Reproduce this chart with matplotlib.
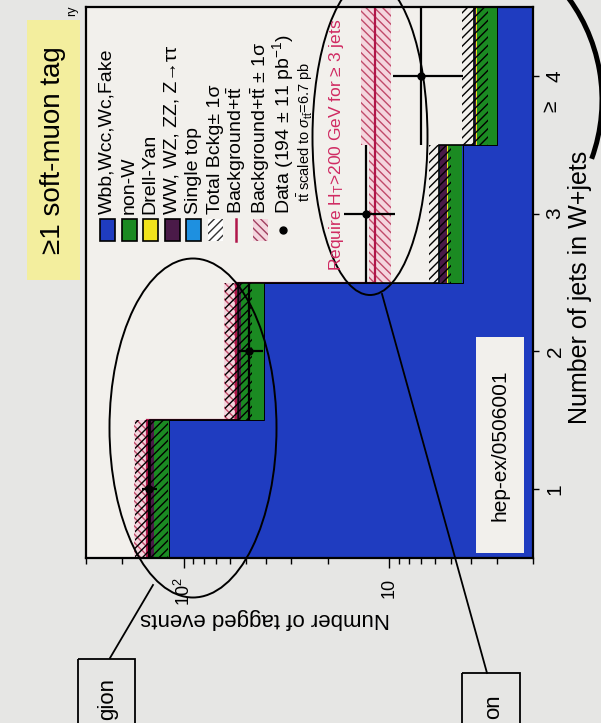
import numpy as np
import matplotlib
matplotlib.use('Agg')
import matplotlib.pyplot as plt
from matplotlib.patches import Rectangle, Ellipse, Arc
from matplotlib.ticker import LogLocator, NullFormatter, FixedLocator

plt.rcParams['font.family'] = ['Liberation Sans', 'DejaVu Sans']
plt.rcParams['mathtext.fontset'] = 'custom'
plt.rcParams['mathtext.rm'] = 'Liberation Sans'
plt.rcParams['mathtext.it'] = 'Liberation Sans:italic'
plt.rcParams['hatch.linewidth'] = 1.0

# histogram data
jets = np.array([1, 2, 3, 4])
jet_edges = np.array([0.5, 1.5, 2.5, 3.5, 4.5])
jet_ticklabels = ['1', '2', '3', '4']
wbb = np.array([118, 40.7, 4.4, 3.0])
nonw = np.array([22, 12, 0.8, 0.75])
drellyan = np.array([0.3, 0.2, 0.05, 0.01])
diboson = np.array([6.2, 1.6, 0.4, 0.08])
single_top = np.array([0.5, 0.3, 0.05, 0.02])
bkg_err = np.array([27, 8, 0.7, 0.55])
bkg_tt = np.array([151, 56, 11.8, 11.8])
bkg_tt_lo = np.array([128, 48, 9.8, 9.8])
bkg_tt_hi = np.array([175, 64, 12.6, 13.7])
data = np.array([148, 48, 13, 7])
data_err = np.array([12.2, 6.9, 3.6, 2.6])
count_ticks = [10, 100]
count_ticklabels = ['10', '$10^{2}$']

legend_labels = ['Wbb,Wcc,Wc,Fake', 'non-W', 'Drell-Yan', 'WW, WZ, ZZ, Z→ττ',
                 'Single top', 'Total Bckg± 1σ', r'Background+t$\bar{\rm t}$',
                 r'Background+t$\bar{\rm t}$ ± 1σ', r'Data (194 ± 11 pb$^{-1}$)']

c_blue = '#1f3cc0'
c_green = '#1b8a22'
c_yellow = '#f2e21c'
c_purple = '#4a1a48'
c_lblue = '#1e90e0'
c_crimson = '#b0164a'
c_pink = '#f4d6de'
bg = '#e6e6e4'
plotbg = '#f2f0ec'

fig = plt.figure(figsize=(6.01, 7.23), dpi=100, facecolor=bg)
ax = fig.add_axes([86/601, 1-558/723, 447/601, 551/723])
ax.set_facecolor(plotbg)
ax.set_xscale('log')

# Background+ttbar +-1 sigma band
ax.stairs(bkg_tt_hi, jet_edges, baseline=bkg_tt_lo, orientation='horizontal', fill=True,
          facecolor=c_pink, edgecolor='#c04a6a', hatch='\\\\\\\\', linewidth=0, zorder=1)
ax.stairs(bkg_tt, jet_edges, baseline=None, orientation='horizontal', color=c_crimson,
          linewidth=1.6, zorder=1.5)

# stacked backgrounds
layers = [wbb, nonw, drellyan, diboson, single_top]
colors = [c_blue, c_green, c_yellow, c_purple, c_lblue]
low = np.full(4, 0.01)
for vals, col in zip(layers, colors):
    top = low + vals
    ax.stairs(top, jet_edges, baseline=low, orientation='horizontal', fill=True,
              facecolor=col, linewidth=0, zorder=2)
    low = top
total = low
ax.stairs(total, jet_edges, baseline=None, orientation='horizontal', color='black',
          linewidth=1.2, zorder=3)
ax.stairs(wbb, jet_edges, baseline=None, orientation='horizontal', color='black',
          linewidth=0.7, zorder=3)

# total background +-1 sigma
ax.stairs(total + bkg_err, jet_edges, baseline=total - bkg_err, orientation='horizontal',
          fill=True, facecolor='none', edgecolor='black', hatch='////', linewidth=0, zorder=3)

# data
ax.errorbar(data, jets, xerr=data_err, yerr=0.5, fmt='o', color='black', ms=5,
            elinewidth=1.6, capsize=0, zorder=4)

ax.set_xlim(300, 2)
ax.set_ylim(0.5, 4.5)
ax.yaxis.tick_right()
ax.set_yticks(jets)
ax.set_yticklabels(jet_ticklabels, rotation=90, va='center', fontsize=15)
ax.tick_params(axis='y', direction='out', length=4, width=1, pad=5)
ax.xaxis.set_major_locator(FixedLocator(count_ticks))
ax.set_xticklabels(count_ticklabels, rotation=90, fontsize=13)
ax.xaxis.set_minor_locator(LogLocator(subs=range(2, 10)))
ax.xaxis.set_minor_formatter(NullFormatter())
ax.tick_params(axis='x', which='major', direction='out', length=7, width=1, pad=7)
ax.tick_params(axis='x', which='minor', direction='out', length=4, width=1)
for s in ax.spines.values():
    s.set_linewidth(1.6)

# overlay in pixel coordinates for the slide decorations
ov = fig.add_axes([0, 0, 1, 1])
ov.set_xlim(0, 601)
ov.set_ylim(723, 0)
ov.axis('off')
ov.patch.set_alpha(0)
ov.set_zorder(5)

# title box
ov.add_patch(Rectangle((27, 20), 53, 260, facecolor='#f3ee9e', edgecolor='none'))
ov.text(53, 150, '≥1 soft-muon tag', rotation=90, ha='center', va='center', fontsize=20)
ov.text(72, 16, 'ry', rotation=90, ha='center', va='bottom', fontsize=9)

# legend
leg_x = [107, 129, 150, 172, 193, 215, 236, 260, 283]
for i, (lx, lab) in enumerate(zip(leg_x, legend_labels)):
    if i < 5:
        ov.add_patch(Rectangle((lx-7.5, 219), 15, 22, facecolor=colors[i], edgecolor='black', lw=1.2))
    elif i == 5:
        ov.add_patch(Rectangle((lx-7.5, 219), 15, 22, facecolor='white', edgecolor='#333333',
                               hatch='////', lw=0))
    elif i == 6:
        ov.plot([lx, lx], [219, 241], color=c_crimson, lw=1.8)
    elif i == 7:
        ov.add_patch(Rectangle((lx-7.5, 219), 15, 22, facecolor=c_pink, edgecolor='#a04060',
                               hatch='\\\\\\\\', lw=0))
    else:
        ov.plot(lx, 230, 'o', color='black', ms=5)
    ov.text(lx, 214, lab, rotation=90, ha='center', va='bottom', fontsize=14)
ov.text(305, 202, r't$\bar{\rm t}$ scaled to $\sigma_{\rm t\bar{t}}$=6.7 pb', rotation=90,
        ha='center', va='bottom', fontsize=10.5)
ov.text(337, 145, r'Require H$_{\rm T}$>200 GeV for ≥ 3 jets', rotation=90, ha='center',
        va='center', fontsize=12.5, color='#d02a62')

# hep-ex box
ov.add_patch(Rectangle((476, 337), 48, 216, facecolor=plotbg, edgecolor='none'))
ov.text(500, 445, 'hep-ex/0506001', rotation=90, ha='center', va='center', fontsize=15)

# axis titles
ov.text(551, 106, '≥', rotation=90, ha='center', va='center', fontsize=15)
ov.text(580, 287, 'Number of jets in W+jets', rotation=90, ha='center', va='center', fontsize=18)
ov.text(265, 618, 'Number of tagged events', rotation=180, ha='center', va='center', fontsize=16)

# hand-drawn annotations
ov.add_patch(Ellipse((193, 428), 167, 339, fill=False, edgecolor='black', lw=1.4))
ov.add_patch(Ellipse((370, 137), 115, 316, fill=False, edgecolor='black', lw=1.4))
ov.plot([153, 110], [585, 658], color='black', lw=1.3)
ov.plot([382, 487], [294, 673], color='black', lw=1.3)
ov.add_patch(Rectangle((78, 659), 57, 80, facecolor='none', edgecolor='black', lw=1.3, clip_on=False))
ov.add_patch(Rectangle((462, 673), 58, 80, facecolor='none', edgecolor='black', lw=1.3, clip_on=False))
ov.text(108, 678, 'gion', rotation=90, ha='center', va='top', fontsize=16)
ov.text(494, 694, 'on', rotation=90, ha='center', va='top', fontsize=16)
ov.add_patch(Arc((430, 100), 344, 344, theta1=-40, theta2=20, edgecolor='black', lw=3.6))

fig.savefig('out.png', dpi=100, facecolor=bg)
